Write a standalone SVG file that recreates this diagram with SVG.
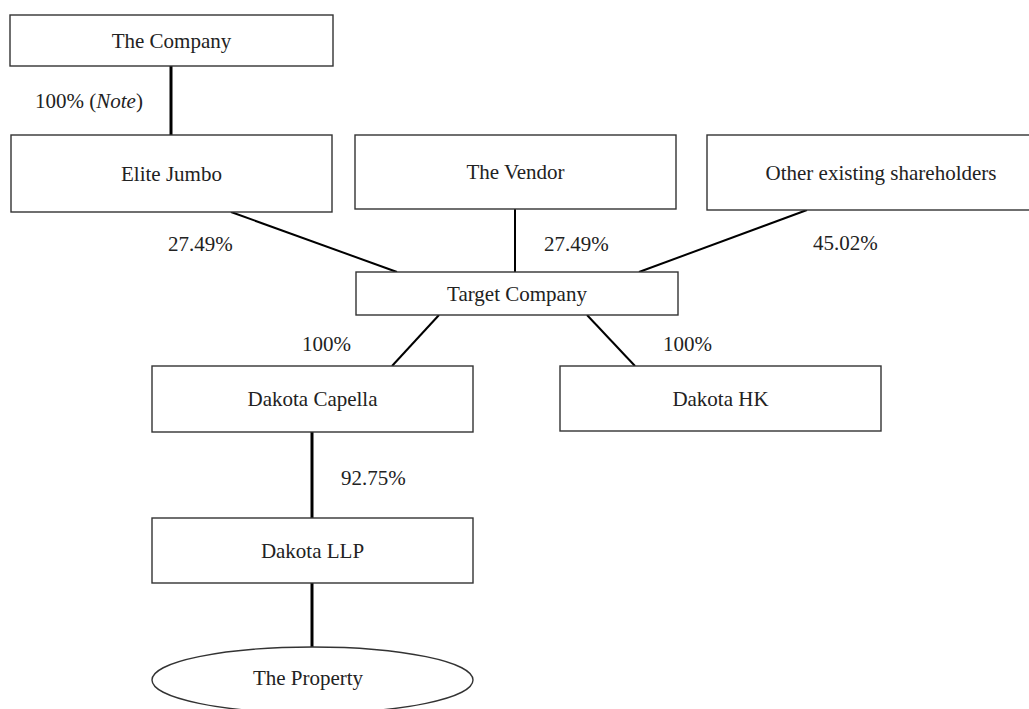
<svg xmlns="http://www.w3.org/2000/svg" width="1029" height="709" viewBox="0 0 1029 709">
<style>
.box{fill:#fff;stroke:#333;stroke-width:1.4}
.t{font-family:"Liberation Serif","Times New Roman",serif;font-size:21px;fill:#222;text-anchor:middle}
.l{font-family:"Liberation Serif","Times New Roman",serif;font-size:21px;fill:#222}
.c{stroke:#000;stroke-width:2;fill:none}
.cv{stroke:#000;stroke-width:3;fill:none}
</style>
<rect width="1029" height="709" fill="#fff"/>
<g id="connectors">
<line class="cv" x1="171" y1="66" x2="171" y2="135"/>
<line class="c" x1="231" y1="212" x2="397" y2="272"/>
<line class="c" x1="515" y1="209" x2="515" y2="272"/>
<line class="c" x1="807" y1="210" x2="639" y2="272"/>
<line class="c" x1="439" y1="315" x2="392" y2="366"/>
<line class="c" x1="587" y1="315" x2="635" y2="366"/>
<line class="cv" x1="312" y1="432" x2="312" y2="518"/>
<line class="cv" x1="312" y1="583" x2="312" y2="647"/>
<text class="l" x="35" y="108">100% (<tspan font-style="italic">Note</tspan>)</text>
<text class="l" x="168" y="251">27.49%</text>
<text class="l" x="544" y="251">27.49%</text>
<text class="l" x="813" y="250">45.02%</text>
<text class="l" x="302" y="351">100%</text>
<text class="l" x="663" y="351">100%</text>
<text class="l" x="341" y="485">92.75%</text>
</g>
<g id="company"><rect class="box" x="10" y="15" width="323" height="51"/><text class="t" x="171.5" y="47.5">The Company</text></g>
<g id="elite-jumbo"><rect class="box" x="11" y="135" width="321" height="77"/><text class="t" x="171.5" y="180.5">Elite Jumbo</text></g>
<g id="vendor"><rect class="box" x="355" y="135" width="321" height="74"/><text class="t" x="515.5" y="179">The Vendor</text></g>
<g id="other"><rect class="box" x="707" y="135" width="348" height="75"/><text class="t" x="881" y="179.5">Other existing shareholders</text></g>
<g id="target"><rect class="box" x="356" y="272" width="322" height="43"/><text class="t" x="517" y="300.5">Target Company</text></g>
<g id="capella"><rect class="box" x="152" y="366" width="321" height="66"/><text class="t" x="312.5" y="406">Dakota Capella</text></g>
<g id="hk"><rect class="box" x="560" y="366" width="321" height="65"/><text class="t" x="720.5" y="405.5">Dakota HK</text></g>
<g id="llp"><rect class="box" x="152" y="518" width="321" height="65"/><text class="t" x="312.5" y="557.5">Dakota LLP</text></g>
<g id="property"><ellipse class="box" cx="312.5" cy="680" rx="160.5" ry="33"/><text class="t" x="308" y="685">The Property</text></g>
</svg>
